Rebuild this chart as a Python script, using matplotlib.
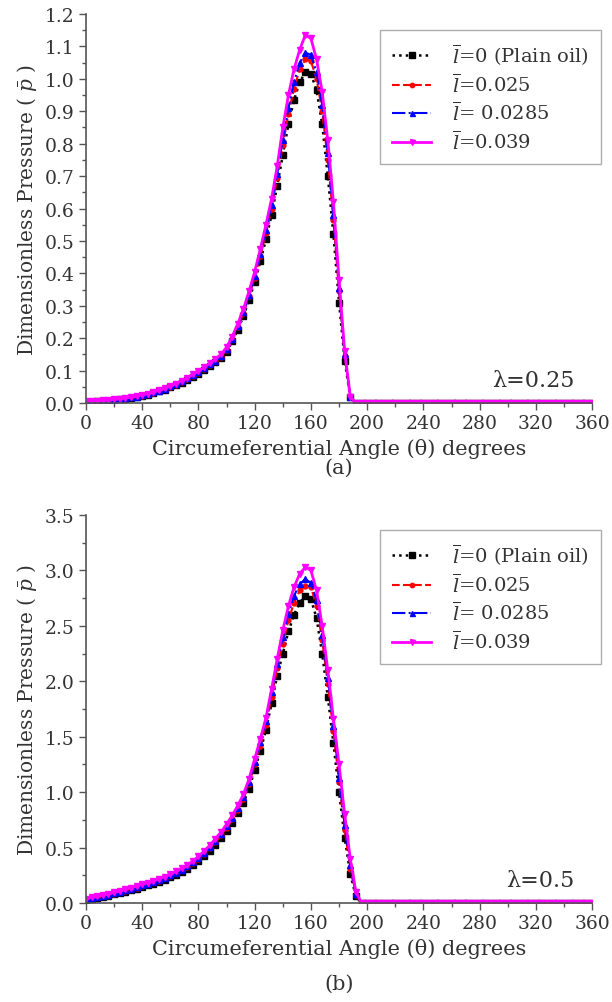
import matplotlib
matplotlib.use("Agg")
import matplotlib.pyplot as plt
from matplotlib.ticker import MultipleLocator

plt.rcParams['font.family'] = 'DejaVu Serif'
plt.rcParams['mathtext.fontset'] = 'dejavuserif'

# angles every 4 degrees
theta = list(range(0, 361, 4))

# (a) lambda = 0.25, values up to 188 deg, zero afterwards
a_plain = [0.003, 0.004, 0.005, 0.006, 0.007, 0.009, 0.011, 0.013, 0.016, 0.019,
           0.022, 0.026, 0.031, 0.036, 0.041, 0.048, 0.055, 0.063, 0.072, 0.081,
           0.091, 0.102, 0.113, 0.125, 0.139, 0.158, 0.190, 0.226, 0.268, 0.318,
           0.373, 0.437, 0.505, 0.580, 0.670, 0.765, 0.860, 0.935, 0.990, 1.020,
           1.015, 0.965, 0.860, 0.700, 0.520, 0.310, 0.130, 0.018]
a_025 = [0.004, 0.005, 0.006, 0.007, 0.008, 0.010, 0.012, 0.014, 0.017, 0.020,
         0.023, 0.027, 0.032, 0.037, 0.043, 0.050, 0.057, 0.065, 0.074, 0.084,
         0.094, 0.105, 0.117, 0.129, 0.143, 0.163, 0.196, 0.234, 0.277, 0.329,
         0.387, 0.453, 0.523, 0.600, 0.693, 0.795, 0.893, 0.970, 1.030, 1.060,
         1.055, 1.000, 0.900, 0.750, 0.565, 0.345, 0.145, 0.019]
a_0285 = [0.004, 0.005, 0.006, 0.007, 0.008, 0.010, 0.012, 0.014, 0.017, 0.020,
          0.024, 0.028, 0.033, 0.038, 0.044, 0.051, 0.058, 0.067, 0.076, 0.086,
          0.096, 0.107, 0.119, 0.131, 0.146, 0.166, 0.199, 0.238, 0.281, 0.334,
          0.393, 0.460, 0.533, 0.612, 0.707, 0.812, 0.910, 0.990, 1.050, 1.080,
          1.075, 1.020, 0.920, 0.770, 0.580, 0.355, 0.150, 0.019]
a_039 = [0.005, 0.006, 0.007, 0.008, 0.009, 0.011, 0.013, 0.015, 0.018, 0.021,
         0.025, 0.029, 0.034, 0.039, 0.045, 0.052, 0.060, 0.069, 0.078, 0.088,
         0.098, 0.110, 0.122, 0.135, 0.150, 0.172, 0.205, 0.245, 0.290, 0.345,
         0.405, 0.475, 0.550, 0.630, 0.730, 0.850, 0.950, 1.030, 1.090, 1.135,
         1.125, 1.060, 0.960, 0.810, 0.620, 0.380, 0.160, 0.020]

# (b) lambda = 0.5, values up to 196 deg, zero afterwards
b_plain = [0.030, 0.038, 0.047, 0.056, 0.066, 0.077, 0.089, 0.101, 0.114, 0.128,
           0.143, 0.158, 0.174, 0.191, 0.210, 0.231, 0.254, 0.280, 0.309, 0.342,
           0.380, 0.424, 0.472, 0.525, 0.585, 0.650, 0.725, 0.810, 0.905, 1.03,
           1.20, 1.37, 1.56, 1.80, 2.05, 2.25, 2.45, 2.60, 2.71, 2.77,
           2.74, 2.57, 2.25, 1.86, 1.44, 1.00, 0.59, 0.26, 0.06, 0.0]
b_025 = [0.034, 0.043, 0.052, 0.062, 0.073, 0.085, 0.097, 0.110, 0.124, 0.139,
         0.154, 0.170, 0.186, 0.203, 0.223, 0.244, 0.268, 0.294, 0.324, 0.358,
         0.398, 0.444, 0.494, 0.549, 0.610, 0.678, 0.755, 0.843, 0.940, 1.07,
         1.25, 1.42, 1.61, 1.86, 2.12, 2.34, 2.55, 2.71, 2.82, 2.86,
         2.85, 2.68, 2.37, 1.98, 1.55, 1.09, 0.66, 0.31, 0.07, 0.0]
b_0285 = [0.036, 0.045, 0.055, 0.065, 0.076, 0.088, 0.101, 0.114, 0.128, 0.143,
          0.158, 0.174, 0.190, 0.208, 0.228, 0.250, 0.274, 0.300, 0.331, 0.366,
          0.406, 0.453, 0.504, 0.560, 0.622, 0.692, 0.770, 0.860, 0.958, 1.09,
          1.27, 1.45, 1.64, 1.90, 2.16, 2.40, 2.61, 2.77, 2.88, 2.92,
          2.89, 2.73, 2.42, 2.03, 1.60, 1.13, 0.70, 0.34, 0.08, 0.0]
b_039 = [0.040, 0.050, 0.060, 0.070, 0.082, 0.095, 0.108, 0.122, 0.137, 0.152,
         0.168, 0.184, 0.200, 0.218, 0.238, 0.260, 0.285, 0.312, 0.342, 0.378,
         0.420, 0.468, 0.520, 0.578, 0.640, 0.710, 0.790, 0.880, 0.980, 1.12,
         1.30, 1.48, 1.67, 1.93, 2.20, 2.46, 2.68, 2.85, 2.97, 3.03,
         3.00, 2.82, 2.50, 2.10, 1.66, 1.25, 0.80, 0.40, 0.10, 0.0]


def pad(vals):
    return vals + [0.0] * (len(theta) - len(vals))


labels = [r'$\overline{l}$=0 (Plain oil)', r'$\overline{l}$=0.025',
          r'$\overline{l}$= 0.0285', r'$\overline{l}$=0.039']
styles = [dict(color='black', ls=':', marker='s', ms=4.5, lw=1.8),
          dict(color='red', ls='--', marker='o', ms=3.5, lw=1.5),
          dict(color='blue', ls='-.', marker='^', ms=4, lw=1.5),
          dict(color='magenta', ls='-', marker='v', ms=4, lw=2.0)]

fig = plt.figure(figsize=(6.12, 10.03), dpi=100)
ax_a = fig.add_axes([0.1405, 0.5972, 0.827, 0.3878])
ax_b = fig.add_axes([0.1405, 0.0987, 0.827, 0.3868])

panels = [
    (ax_a, [a_plain, a_025, a_0285, a_039], 1.2, 0.1, 0.05, 'λ=0.25', 0.979, '(a)', 0.533),
    (ax_b, [b_plain, b_025, b_0285, b_039], 3.5, 0.5, 0.25, 'λ=0.5', 0.4806, '(b)', 0.019),
]

for ax, series, ytop, ymaj, ymin, lam, leg_y, tag, tag_y in panels:
    for vals, lab, st in zip(series, labels, styles):
        ax.plot(theta, pad(vals), label=lab, **st)
    ax.set_xlim(0, 360)
    ax.set_ylim(0, ytop)
    ax.xaxis.set_major_locator(MultipleLocator(40))
    ax.xaxis.set_minor_locator(MultipleLocator(20))
    ax.yaxis.set_major_locator(MultipleLocator(ymaj))
    ax.yaxis.set_minor_locator(MultipleLocator(ymin))
    ax.yaxis.set_major_formatter(plt.FormatStrFormatter('%.1f'))
    for side in ['top', 'right']:
        ax.spines[side].set_visible(False)
    for side in ['left', 'bottom']:
        ax.spines[side].set_color('#555555')
        ax.spines[side].set_linewidth(1.2)
    ax.tick_params(which='major', length=5, width=1, color='#555555',
                   labelsize=13.5, labelcolor='#333333', pad=3)
    ax.tick_params(which='minor', length=3, width=1, color='#555555')
    ax.set_xlabel('Circumeferential Angle (θ) degrees', fontsize=15,
                  color='#333333', labelpad=4)
    ax.set_ylabel(r'Dimensionless Pressure ( $\bar{p}$ )', fontsize=14.5,
                  color='#333333', labelpad=4)
    ax.text(0.965, 0.03, lam, transform=ax.transAxes, ha='right', va='bottom',
            fontsize=16, color='#333333')
    leg = ax.legend(loc='upper right', bbox_to_anchor=(0.998, leg_y),
                    bbox_transform=fig.transFigure, fontsize=14,
                    fancybox=False, edgecolor='#999999', handlelength=2.0,
                    handletextpad=1.1, labelspacing=0.25, borderpad=0.6,
                    markerscale=0.9)
    leg.get_frame().set_linewidth(1.0)
    for t in leg.get_texts():
        t.set_color('#333333')
    fig.text(0.554, tag_y, tag, ha='center', va='center', fontsize=15,
             color='#333333')

fig.savefig('out.png', dpi=100)
